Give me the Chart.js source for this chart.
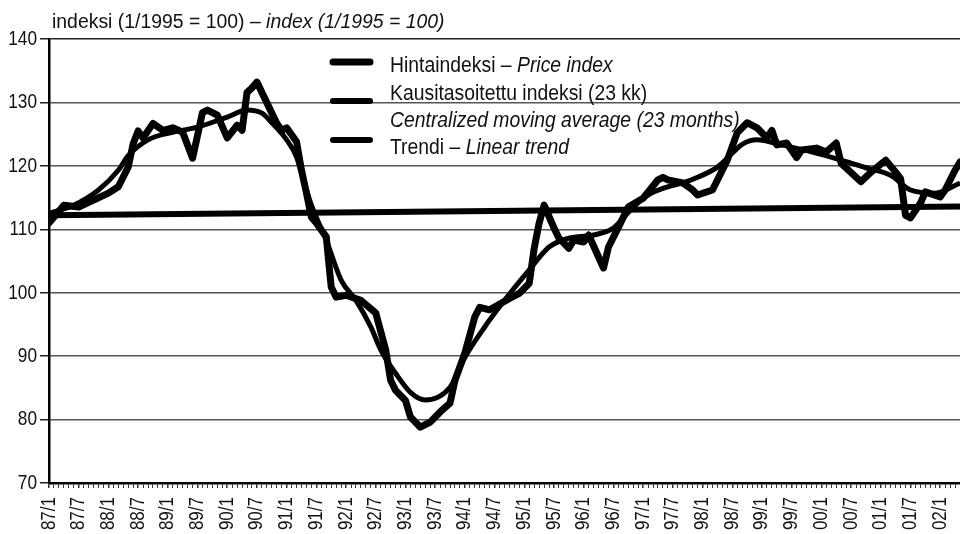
<!DOCTYPE html>
<html>
<head>
<meta charset="utf-8">
<title>Hintaindeksi 1987–2002</title>
<script src="https://cdn.jsdelivr.net/npm/chart.js@4/dist/chart.umd.min.js"></script>
<style>
  html, body { margin: 0; padding: 0; background: #fff; }
  #wrap { width: 960px; height: 534px; }
</style>
</head>
<body>
<div id="wrap"><canvas id="myChart" width="960" height="534"></canvas></div>
<script>
// months counted from 1987/1 (0) to 2002/5 (184)
const startYear = 87
const lastMonth = 184

// Hintaindeksi – Price index (month, value)
const priceMonths = [0, 3, 6, 9, 12, 14, 16, 17, 18, 19, 21, 23, 25, 27, 29, 31, 32, 34, 36, 38, 39, 40, 41, 42,
	46, 47, 48, 50, 51, 52, 53, 54, 56, 57, 58, 60, 63, 66, 68, 69, 70, 72, 73, 75, 77, 79, 81, 82, 84,
	86, 87, 89, 93, 95, 97, 98, 99, 100, 102, 103, 105, 106, 108, 109, 112, 113, 115, 117, 120, 123, 124, 125,
	128, 130, 131, 134, 137, 139, 141, 143, 145, 146, 147, 149, 151, 152, 155, 157, 159, 160, 164, 166, 169,
	171, 172, 173, 174, 176, 177, 180, 181, 183, 184]
const priceValues = [111, 113.8, 113.5, 114.6, 115.7, 116.7, 119.8, 123.5, 125.5, 124.4, 126.7, 125.6, 126, 125.3, 121.2, 128.4, 128.8, 128, 124.4, 126.4, 125.6, 131.6, 132.3, 133.2,
	126.7, 125.6, 126, 123.8, 119.3, 115.7, 111.9, 111, 108.8, 100.9, 99.3, 99.6, 98.8, 96.8, 91, 86.2, 84.6, 83, 80.4, 78.8, 79.6, 81.2, 82.6, 86.2, 90.5,
	96.2, 97.7, 97.3, 99.1, 99.9, 101.5, 107, 111, 113.8, 110.2, 108.6, 107, 108.3, 108, 109.1, 103.9, 107.2, 110.3, 113.5, 114.9, 117.8, 118.2, 117.8,
	117.3, 116.2, 115.4, 116.2, 120.9, 125.2, 126.8, 126, 124.4, 125.6, 123.3, 123.6, 121.3, 122.5, 122.8, 122.2, 123.6, 120.4, 117.5, 119, 120.9,
	119, 118, 112.2, 111.8, 114.1, 115.9, 115.1, 116.2, 119.3, 120.6]

// Kausitasoitettu indeksi (23 kk) – centralized moving average
const avgMonths = [0, 5, 10, 14, 16, 20, 25, 30, 36, 40, 43, 45, 48, 50, 51, 53, 56, 59, 62, 65, 67, 70, 73, 76,
	81, 84, 88, 92, 97, 101, 105, 110, 114, 118, 121, 125, 128, 131, 135, 138, 140, 143, 148, 154, 160, 165, 170,
	174, 179, 184]
const avgValues = [112.5, 113.8, 116.2, 119.3, 121.6, 124.1, 125.3, 126.1, 127.7, 128.8, 128.3, 126.8, 124.1, 121.4, 118.8, 113.8, 108.3, 102, 98.8, 94.6, 91, 87.3, 84.3, 83.1,
	85.1, 89.8, 94.6, 98.8, 103.6, 107.2, 108.6, 109.1, 110.2, 113.5, 115.4, 116.7, 117.3, 118.2, 119.8, 122, 123.4, 124.1, 123.3, 122.2, 120.9, 119.7, 118.5,
	116.2, 115.7, 117.3]

// Trendi – Linear trend
const trendMonths = [0, 184]
const trendValues = [112.2, 113.6]

const yTicks = [70, 80, 90, 100, 110, 120, 130, 140]

// Liberation Sans squeezed sideways stands in for a narrow sans
const family = "'Liberation Sans', Arial, sans-serif"

const toPoints = (xs, ys) => xs.map((m, i) => ({ x: m, y: ys[i] }))

const monthLabel = (m) => {
	const yy = (startYear + Math.floor(m / 12)) % 100
	return String(yy).padStart(2, '0') + '/' + (m % 12 === 0 ? 1 : 7)
}

// writes a line made of plain and italic pieces, squeezed horizontally
const drawParts = (ctx, x, y, parts, size, squeeze) => {
	ctx.save()
	ctx.translate(x, y)
	ctx.scale(squeeze, 1)
	let cx = 0
	parts.forEach(([text, italic]) => {
		ctx.font = (italic ? 'italic ' : '') + size + 'px ' + family
		ctx.fillText(text, cx, 0)
		cx += ctx.measureText(text).width
	})
	ctx.restore()
}

const captions = {
	id: 'captions',
	afterDraw(chart) {
		const ctx = chart.ctx
		const xs = chart.scales.x
		const ys = chart.scales.y
		ctx.save()
		ctx.fillStyle = '#111'

		// y tick labels
		ctx.textAlign = 'right'
		ctx.textBaseline = 'middle'
		ctx.font = '21px ' + family
		yTicks.forEach((v) => {
			ctx.save()
			ctx.translate(37, ys.getPixelForValue(v))
			ctx.scale(0.82, 1)
			ctx.fillText(String(v), 0, 0)
			ctx.restore()
		})

		// x tick labels, every half year, reading upwards
		ctx.font = '20px ' + family
		for (let m = 0; m <= lastMonth; m += 6) {
			ctx.save()
			ctx.translate(xs.getPixelForValue(m), xs.top + 14)
			ctx.rotate(-Math.PI / 2)
			ctx.scale(0.85, 1)
			ctx.fillText(monthLabel(m), 0, 0)
			ctx.restore()
		}

		ctx.textAlign = 'left'
		ctx.textBaseline = 'alphabetic'
		drawParts(ctx, 52, 28, [['indeksi (1/1995 = 100) – ', false], ['index (1/1995 = 100)', true]], 20, 0.97)

		// legend swatches
		ctx.strokeStyle = '#000'
		ctx.lineCap = 'round'
		;[[62, 7], [101, 6], [140, 6]].forEach(([y, w]) => {
			ctx.lineWidth = w
			ctx.beginPath()
			ctx.moveTo(333, y)
			ctx.lineTo(370, y)
			ctx.stroke()
		})
		drawParts(ctx, 390, 72, [['Hintaindeksi – ', false], ['Price index', true]], 22, 0.88)
		drawParts(ctx, 390, 100, [['Kausitasoitettu indeksi (23 kk)', false]], 22, 0.88)
		drawParts(ctx, 390, 127, [['Centralized moving average (23 months)', true]], 22, 0.88)
		drawParts(ctx, 390, 154, [['Trendi – ', false], ['Linear trend', true]], 22, 0.88)
		ctx.restore()
	},
}

const ctx = document.getElementById('myChart').getContext('2d')
const myChart = new Chart(ctx, {
	type: 'line',
	data: {
		datasets: [
			{
				label: 'Trendi – Linear trend',
				data: toPoints(trendMonths, trendValues),
				borderColor: '#000',
				borderWidth: 6,
				pointRadius: 0,
			},
			{
				label: 'Kausitasoitettu indeksi (23 kk)',
				data: toPoints(avgMonths, avgValues),
				borderColor: '#000',
				borderWidth: 5,
				cubicInterpolationMode: 'monotone',
				pointRadius: 0,
			},
			{
				label: 'Hintaindeksi – Price index',
				data: toPoints(priceMonths, priceValues),
				borderColor: '#000',
				borderWidth: 7,
				borderJoinStyle: 'round',
				borderCapStyle: 'round',
				tension: 0,
				pointRadius: 0,
			},
		],
	},
	options: {
		responsive: false,
		animation: false,
		events: [],
		layout: { padding: { top: 39, right: 0, left: 0, bottom: 0 } },
		plugins: {
			legend: { display: false },
			tooltip: { enabled: false },
		},
		scales: {
			x: {
				type: 'linear',
				min: 0,
				max: lastMonth,
				afterFit: (scale) => {
					scale.height = 51
					scale.paddingLeft = 0
					scale.paddingRight = 0
				},
				afterBuildTicks: (scale) => {
					scale.ticks = []
					for (let m = 0; m <= lastMonth; m++) scale.ticks.push({ value: m })
				},
				ticks: { display: false, autoSkip: false },
				grid: {
					drawOnChartArea: false,
					drawTicks: true,
					tickLength: 5,
					tickColor: '#333',
					lineWidth: (c) => (c.tick && c.tick.value % 6 === 0 ? 1.5 : 1),
				},
				border: { display: true, color: '#000', width: 2.5 },
			},
			y: {
				min: 70,
				max: 140,
				afterFit: (scale) => {
					scale.width = 49
					scale.paddingTop = 0
					scale.paddingBottom = 0
				},
				afterBuildTicks: (scale) => { scale.ticks = yTicks.map((v) => ({ value: v })) },
				ticks: { display: false },
				grid: {
					color: (c) => (c.tick && c.tick.value === 140 ? '#222' : '#555'),
					lineWidth: 1.5,
					tickLength: 9,
					tickColor: '#222',
				},
				border: { display: true, color: '#000', width: 2.5 },
			},
		},
	},
	plugins: [captions],
})
</script>
</body>
</html>
